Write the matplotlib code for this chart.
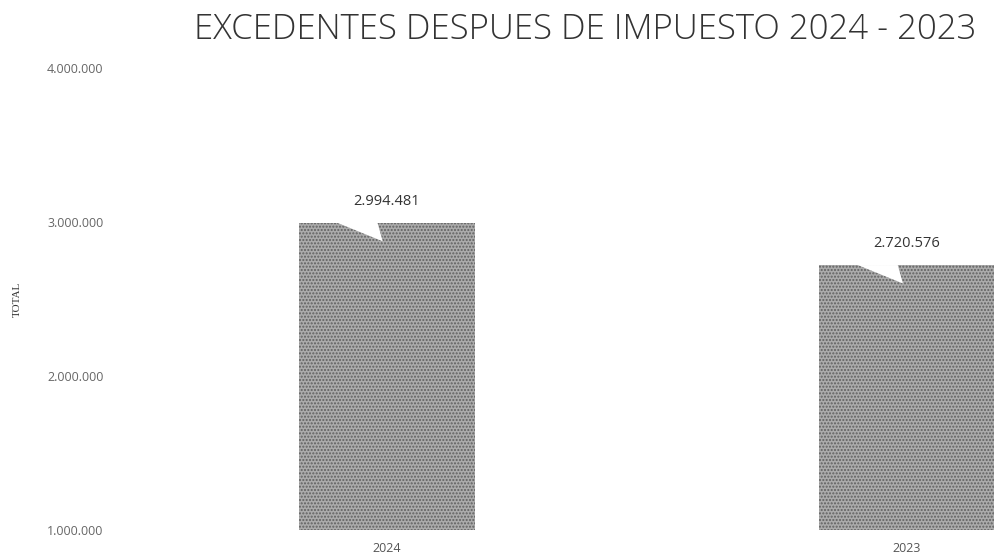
import matplotlib.pyplot as plt
from matplotlib.patches import Polygon

years = ['2024', '2023']
totals = [2994481, 2720576]
yticks = [1000000, 2000000, 3000000, 4000000]
ytick_labels = ['1.000.000', '2.000.000', '3.000.000', '4.000.000']

W, H = 994, 560
fig = plt.figure(figsize=(W / 100, H / 100), dpi=100)
# axes box in pixels: left 120, right 994, top 68, bottom 530
ax = fig.add_axes([120 / W, 1 - 530 / H, (994 - 120) / W, (530 - 68) / H])

xs = list(range(len(years)))
bar_w = 0.337
bars = ax.bar(xs, totals, width=bar_w, bottom=0, color='#ababab',
              hatch='.....', edgecolor='#606060', linewidth=0)

ax.set_xlim(-0.513, 1.167)
ax.set_ylim(1000000, 4000000)

# callout labels with pointer notch cut into bar top
for x, v in zip(xs, totals):
    notch = Polygon([(x - 0.095, v), (x - 0.008, v - 120000), (x - 0.018, v)],
                    closed=True, facecolor='white', edgecolor='none', zorder=3)
    ax.add_patch(notch)
    ax.annotate('{:,}'.format(v).replace(',', '.'), (x, v), xytext=(0, 10),
                textcoords='offset points', ha='center', va='bottom',
                fontsize=10.5, color='#333333', family='Open Sans')

ax.set_yticks(yticks)
ax.set_yticklabels(ytick_labels, fontsize=9, color='#666666', family='Open Sans')
ax.set_xticks(xs)
ax.set_xticklabels(years, fontsize=9, color='#555555', family='Open Sans')
ax.tick_params(length=0, pad=9)
ax.tick_params(axis='y', pad=12)
for s in ax.spines.values():
    s.set_visible(False)

ax.set_ylabel('TOTAL', fontsize=8, family='Liberation Serif', color='#333333', labelpad=18)

fig.text(585 / W, 1 - 30 / H, 'EXCEDENTES DESPUES DE IMPUESTO 2024 - 2023',
         ha='center', va='center', fontsize=25, family='Open Sans',
         fontweight='light', color='#333333')

fig.savefig('out.png', dpi=100)
